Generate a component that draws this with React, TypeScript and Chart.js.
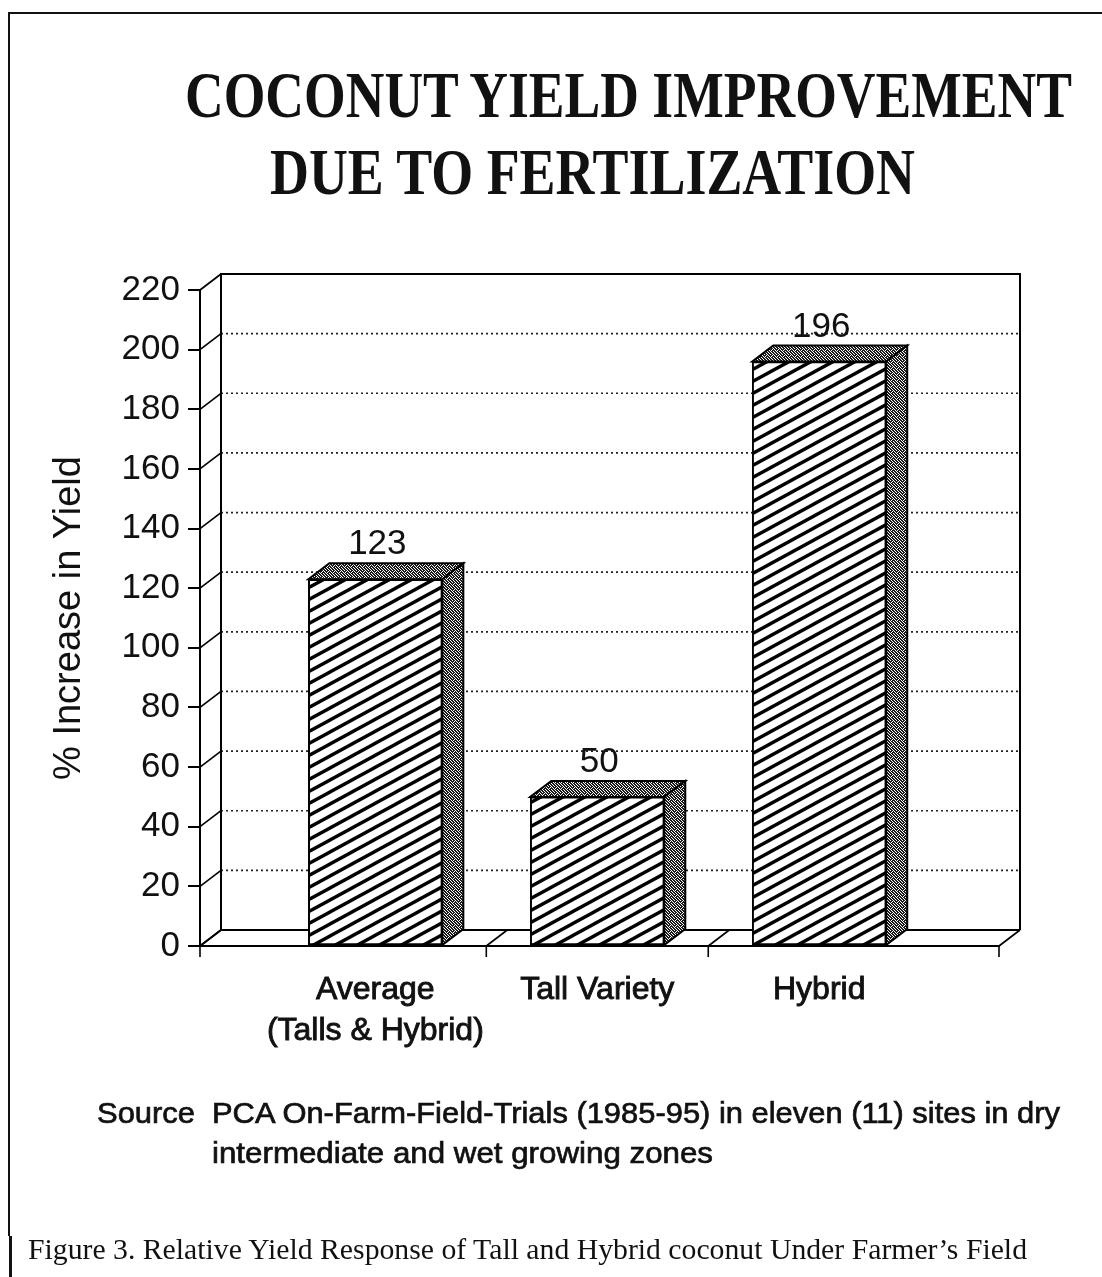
import React, { useEffect, useLayoutEffect, useRef } from 'react';
import { Chart, registerables } from 'chart.js';

Chart.register(...registerables);

// ---------- data ----------
const categories: (string | string[])[] = [['Average', '(Talls & Hybrid)'], 'Tall Variety', 'Hybrid'];
const yieldIncrease = [123, 50, 196];
const yTicks = [0, 20, 40, 60, 80, 100, 120, 140, 160, 180, 200, 220];
const titleLines = ['COCONUT YIELD IMPROVEMENT', 'DUE TO FERTILIZATION'];
const yAxisTitle = '% Increase in Yield';
const sourceLabel = 'Source';
const sourceLines = [
  'PCA On-Farm-Field-Trials (1985-95) in eleven (11) sites in dry',
  'intermediate and wet growing zones',
];
const caption = 'Figure 3. Relative Yield Response of Tall and Hybrid coconut Under Farmer\u2019s Field';

// ---------- styling ----------
const SANS = "'Liberation Sans', Arial, Helvetica, sans-serif";
const SERIF = "'Liberation Serif', 'Times New Roman', Times, serif";
const DX = 21;
const DY = -16;

function makeHatch(ctx: CanvasRenderingContext2D) {
  const W = 22;
  const H = 12;
  const c = document.createElement('canvas');
  c.width = W;
  c.height = H;
  const g = c.getContext('2d')!;
  g.fillStyle = '#fff';
  g.fillRect(0, 0, W, H);
  g.strokeStyle = '#000';
  g.lineWidth = 3.4;
  for (const n of [-1, 0, 1]) {
    g.beginPath();
    g.moveTo(-W, 2 * H + n * H);
    g.lineTo(2 * W, -H + n * H);
    g.stroke();
  }
  return ctx.createPattern(c, 'repeat')!;
}

function makeStipple(ctx: CanvasRenderingContext2D) {
  const rows = ['XX.XX.', '.XXX.X', 'X.X.XX', 'XX.XX.', '.XX.XX', 'X.XX.X'];
  const c = document.createElement('canvas');
  c.width = 6;
  c.height = 6;
  const g = c.getContext('2d')!;
  g.fillStyle = '#fff';
  g.fillRect(0, 0, 6, 6);
  g.fillStyle = '#1a1a1a';
  rows.forEach((row, r) =>
    row.split('').forEach((ch, col) => {
      if (ch === 'X') g.fillRect(col, r, 1, 1);
    })
  );
  return ctx.createPattern(c, 'repeat')!;
}

type FitProps = {
  text: string;
  left: number;
  baseline: number;
  width: number;
  size: number;
  family: string;
  weight?: string | number;
  stroke?: number;
  ratio: number;
};

function FitText({ text, left, baseline, width, size, family, weight = 'normal', stroke = 0, ratio }: FitProps) {
  const ref = useRef<HTMLDivElement>(null);
  useLayoutEffect(() => {
    const fit = () => {
      const el = ref.current;
      if (!el) return;
      el.style.transform = 'none';
      const w = el.getBoundingClientRect().width;
      if (w > 0) el.style.transform = `scaleX(${width / w})`;
    };
    fit();
    if ((document as any).fonts && (document as any).fonts.ready) {
      (document as any).fonts.ready.then(fit);
    }
  }, [text, width, size, family, weight]);
  return (
    <div
      ref={ref}
      style={{
        position: 'absolute',
        left,
        top: baseline - ratio * size,
        fontSize: size,
        lineHeight: `${size}px`,
        fontFamily: family,
        fontWeight: weight as any,
        whiteSpace: 'nowrap',
        transformOrigin: '0 0',
        color: '#111',
        WebkitTextStroke: stroke ? `${stroke}px #111` : undefined,
      }}
    >
      {text}
    </div>
  );
}

const SERIF_RATIO = 0.8375;
const SANS_RATIO = 0.8465;

export default function App() {
  const canvasRef = useRef<HTMLCanvasElement>(null);

  useEffect(() => {
    const canvas = canvasRef.current!;
    const ctx = canvas.getContext('2d')!;
    const hatch = makeHatch(ctx);
    const stipple = makeStipple(ctx);

    const line = (c: CanvasRenderingContext2D, x1: number, y1: number, x2: number, y2: number) => {
      c.beginPath();
      c.moveTo(x1, y1);
      c.lineTo(x2, y2);
      c.stroke();
    };

    const box3d = {
      id: 'box3d',
      beforeDatasetsDraw(chart: any) {
        const { ctx: c, chartArea: a } = chart;
        const xs = chart.scales.x;
        const ys = chart.scales.y;
        const y0 = ys.getPixelForValue(0);
        const yT = ys.getPixelForValue(yTicks[yTicks.length - 1]);
        c.save();
        // dotted gridlines on back wall
        c.strokeStyle = '#222';
        c.lineWidth = 1.7;
        c.setLineDash([2, 3]);
        yTicks.forEach((v, i) => {
          if (i === 0 || i === yTicks.length - 1) return;
          const yy = ys.getPixelForValue(v) + DY;
          line(c, a.left + DX, yy, a.right + DX, yy);
        });
        c.setLineDash([]);
        // slanted connectors on left wall
        c.strokeStyle = '#000';
        c.lineWidth = 1.6;
        yTicks.forEach((v) => {
          const yy = ys.getPixelForValue(v);
          line(c, a.left, yy, a.left + DX, yy + DY);
        });
        // back wall frame
        c.lineWidth = 2;
        c.beginPath();
        c.moveTo(a.left + DX, y0 + DY);
        c.lineTo(a.left + DX, yT + DY);
        c.lineTo(a.right + DX, yT + DY);
        c.lineTo(a.right + DX, y0 + DY);
        c.stroke();
        // back floor line
        line(c, a.left + DX, y0 + DY, a.right + DX, y0 + DY);
        // floor dividers
        c.lineWidth = 1.6;
        const divs = [a.left, xs.getPixelForValue(0.5), xs.getPixelForValue(1.5), a.right];
        divs.forEach((px) => {
          line(c, px, y0, px + DX, y0 + DY);
          line(c, px, y0, px, y0 + 11);
        });
        c.restore();
      },
      afterDatasetsDraw(chart: any) {
        const c: CanvasRenderingContext2D = chart.ctx;
        const meta = chart.getDatasetMeta(0);
        c.save();
        meta.data.forEach((el: any, i: number) => {
          const { x, y, base, width } = el.getProps(['x', 'y', 'base', 'width'], true);
          const L = x - width / 2;
          const R = x + width / 2;
          c.lineWidth = 2;
          c.strokeStyle = '#000';
          c.lineJoin = 'miter';
          // top face
          c.beginPath();
          c.moveTo(L, y);
          c.lineTo(L + DX, y + DY);
          c.lineTo(R + DX, y + DY);
          c.lineTo(R, y);
          c.closePath();
          c.fillStyle = stipple;
          c.fill();
          c.stroke();
          // side face
          c.beginPath();
          c.moveTo(R, y);
          c.lineTo(R + DX, y + DY);
          c.lineTo(R + DX, base + DY);
          c.lineTo(R, base);
          c.closePath();
          c.fillStyle = stipple;
          c.fill();
          c.stroke();
          // value label
          c.fillStyle = '#111';
          c.font = `35px ${SANS}`;
          c.textAlign = 'center';
          c.textBaseline = 'alphabetic';
          c.fillText(String(yieldIncrease[i]), x + 2, y + DY - 9);
        });
        c.restore();
      },
    };

    const chart = new Chart(canvas, {
      type: 'bar',
      data: {
        datasets: [
          {
            data: yieldIncrease.map((v, i) => ({ x: i, y: v })) as any,
            backgroundColor: hatch as any,
            borderColor: '#000',
            borderWidth: 2,
            borderSkipped: false,
            barThickness: 134,
          },
        ],
      },
      options: {
        animation: false,
        responsive: false,
        devicePixelRatio: 1,
        layout: { padding: { left: 44, right: 103, top: 290, bottom: 211 } },
        plugins: {
          legend: { display: false },
          tooltip: { enabled: false },
          title: { display: false },
        },
        scales: {
          x: {
            type: 'linear',
            offset: false,
            min: -0.79,
            max: 2.81,
            grid: { display: false, drawTicks: false, offset: false },
            border: { display: true, color: '#000', width: 2 },
            afterBuildTicks: (s: any) => {
              s.ticks = categories.map((_, i) => ({ value: i }));
            },
            afterFit: (s: any) => {
              s.height = 120;
            },
            ticks: {
              autoSkip: false,
              maxRotation: 0,
              minRotation: 0,
              padding: 23,
              color: '#111',
              textStrokeColor: '#111',
              textStrokeWidth: 0.9,
              font: { family: SANS, size: 32, lineHeight: 1.3 },
              callback: (v: any) => categories[Number(v)] as any,
            },
          },
          y: {
            min: 0,
            max: 220,
            afterBuildTicks: (s: any) => {
              s.ticks = yTicks.map((v) => ({ value: v }));
            },
            afterFit: (s: any) => {
              s.width = 156;
            },
            grid: { drawOnChartArea: false, drawTicks: true, tickLength: 12, color: '#000', lineWidth: 2 },
            border: { display: true, color: '#000', width: 2 },
            ticks: { padding: 8, color: '#111', font: { family: SANS, size: 35 } },
            title: {
              display: true,
              text: yAxisTitle,
              color: '#111',
              font: { family: SANS, size: 38 },
              padding: { top: 3, bottom: 4 },
            },
          },
        },
      } as any,
      plugins: [box3d as any],
    });
    return () => chart.destroy();
  }, []);

  return (
    <div style={{ position: 'absolute', left: 0, top: 0, width: 1102, height: 1277, background: '#fff', overflow: 'hidden' }}>
      <canvas ref={canvasRef} width={1102} height={1277} style={{ position: 'absolute', left: 0, top: 0, display: 'block' }} />
      {/* page frame */}
      <div style={{ position: 'absolute', left: 8, top: 12, width: 2, height: 1224, background: '#111' }} />
      <div style={{ position: 'absolute', left: 8, top: 12, width: 1094, height: 2, background: '#111' }} />
      <div style={{ position: 'absolute', left: 9, top: 1236, width: 3, height: 41, background: '#111' }} />
      <FitText text={titleLines[0]} left={185} baseline={117} width={887} size={65} family={SERIF} weight="bold" ratio={SERIF_RATIO} />
      <FitText text={titleLines[1]} left={270} baseline={194} width={645} size={65} family={SERIF} weight="bold" ratio={SERIF_RATIO} />
      <FitText text={sourceLabel} left={97} baseline={1123} width={98} size={30} family={SANS} stroke={0.7} ratio={SANS_RATIO} />
      <FitText text={sourceLines[0]} left={212} baseline={1123} width={848} size={30} family={SANS} stroke={0.7} ratio={SANS_RATIO} />
      <FitText text={sourceLines[1]} left={212} baseline={1163} width={501} size={30} family={SANS} stroke={0.7} ratio={SANS_RATIO} />
      <FitText text={caption} left={28} baseline={1259} width={999} size={29} family={SERIF} ratio={SERIF_RATIO} />
    </div>
  );
}
